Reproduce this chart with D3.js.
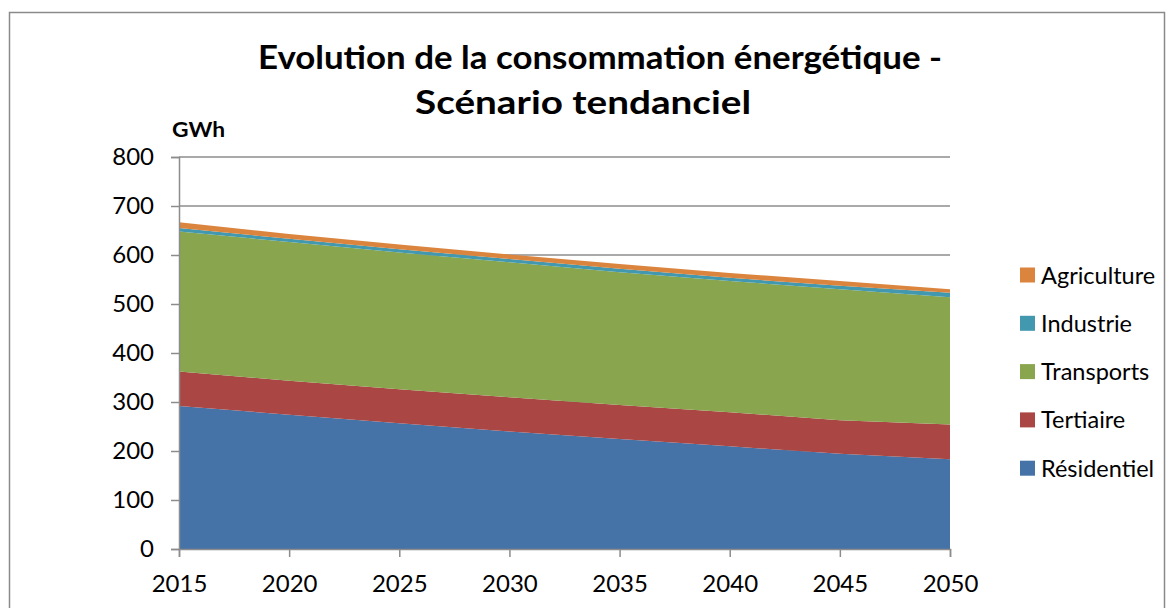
<!DOCTYPE html>
<html><head><meta charset="utf-8">
<script src="https://cdn.jsdelivr.net/npm/d3@7"></script>
<style>
html,body{margin:0;padding:0;background:#fff;}
svg{display:block;}
text{font-family:Lato,"Open Sans",sans-serif;fill:#000;}
</style></head>
<body>
<svg id="chart" width="1175" height="608"></svg>
<script>
const years = [2015, 2020, 2025, 2030, 2035, 2040, 2045, 2050];
const residentiel = [292, 274, 256.5, 240, 224.5, 209.5, 194.5, 183];
const tertiaire   = [70, 69.5, 69.5, 69.5, 69.5, 69.5, 68.5, 71];
const transports  = [286, 283, 279, 275.5, 271, 268, 267, 260];
const industrie   = [7, 6.5, 6.5, 7, 7, 6.5, 7, 9];
const agriculture = [12, 10, 10, 9, 9.5, 10, 10, 7];
const seriesNames = ["Résidentiel", "Tertiaire", "Transports", "Industrie", "Agriculture"];
const seriesColors = ["#4572A7", "#AA4643", "#89A54E", "#4198AF", "#DB843D"];
const yTicks = [0, 100, 200, 300, 400, 500, 600, 700, 800];
const xTicks = [2015, 2020, 2025, 2030, 2035, 2040, 2045, 2050];
const titleLines = ["Evolution de la consommation énergétique -", "Scénario tendanciel"];
const yUnit = "GWh";

const svg = d3.select("#chart");
const m = {left: 179, right: 950, top: 157, bottom: 549};

// outer border
svg.append("rect").attr("x", 9.5).attr("y", 12.5).attr("width", 1155).attr("height", 620)
  .attr("fill", "#fff").attr("stroke", "#8a8a8a").attr("stroke-width", 1.5);

const data = years.map((y, i) => ({
  year: y,
  "Résidentiel": residentiel[i],
  "Tertiaire": tertiaire[i],
  "Transports": transports[i],
  "Industrie": industrie[i],
  "Agriculture": agriculture[i]
}));

const x = d3.scaleLinear().domain([2015, 2050]).range([m.left, m.right]);
const y = d3.scaleLinear().domain([0, 800]).range([m.bottom, m.top]);

// gridlines
svg.append("g").selectAll("line").data(yTicks.filter(d => d > 0)).join("line")
  .attr("x1", m.left).attr("x2", m.right)
  .attr("y1", d => y(d)).attr("y2", d => y(d))
  .attr("stroke", "#8c8c8c").attr("stroke-width", 1.5);

const stack = d3.stack().keys(seriesNames);
const layers = stack(data);
const area = d3.area()
  .x(d => x(d.data.year))
  .y0(d => y(d[0]))
  .y1(d => y(d[1]));

svg.append("g").selectAll("path").data(layers).join("path")
  .attr("d", area)
  .attr("fill", (d, i) => seriesColors[i])
  .attr("stroke", "none");

// axes
const yAxis = d3.axisLeft(y).tickValues(yTicks).tickSize(8).tickPadding(17);
const gy = svg.append("g").attr("transform", `translate(${m.left},0)`).call(yAxis);
gy.select(".domain").attr("stroke", "#8c8c8c").attr("stroke-width", 1.5);
gy.selectAll(".tick line").attr("stroke", "#8c8c8c").attr("stroke-width", 1.5);
gy.selectAll(".tick text").attr("font-family", "Lato").attr("font-size", 24).attr("fill", "#000");

const xAxis = d3.axisBottom(x).tickValues(xTicks).tickFormat(d3.format("d")).tickSize(8).tickPadding(18);
const gx = svg.append("g").attr("transform", `translate(0,${m.bottom})`).call(xAxis);
gx.select(".domain").attr("stroke", "#8c8c8c").attr("stroke-width", 1.5);
gx.selectAll(".tick line").attr("stroke", "#8c8c8c").attr("stroke-width", 1.5);
gx.selectAll(".tick text").attr("font-family", "Lato").attr("font-size", 24).attr("fill", "#000");

// title
svg.append("text").attr("x", 258).attr("y", 69).attr("font-size", 33).attr("font-weight", "bold")
  .attr("textLength", 684).attr("lengthAdjust", "spacingAndGlyphs").text(titleLines[0]);
svg.append("text").attr("x", 415).attr("y", 114).attr("font-size", 33).attr("font-weight", "bold")
  .attr("textLength", 336).attr("lengthAdjust", "spacingAndGlyphs").text(titleLines[1]);

// unit
svg.append("text").attr("x", 172).attr("y", 137).attr("font-size", 20).attr("font-weight", "bold")
  .attr("textLength", 53).attr("lengthAdjust", "spacingAndGlyphs").text(yUnit);

// legend (reverse order)
const legendItems = seriesNames.map((n, i) => ({name: n, color: seriesColors[i]})).reverse();
const lg = svg.append("g");
legendItems.forEach((d, i) => {
  const cy = 275 + i * 48.3;
  lg.append("rect").attr("x", 1020).attr("y", cy - 7.5).attr("width", 15).attr("height", 15).attr("fill", d.color);
  lg.append("text").attr("x", 1041).attr("y", cy + 8.5).attr("font-size", 23.5).text(d.name);
});
</script>
</body></html>
